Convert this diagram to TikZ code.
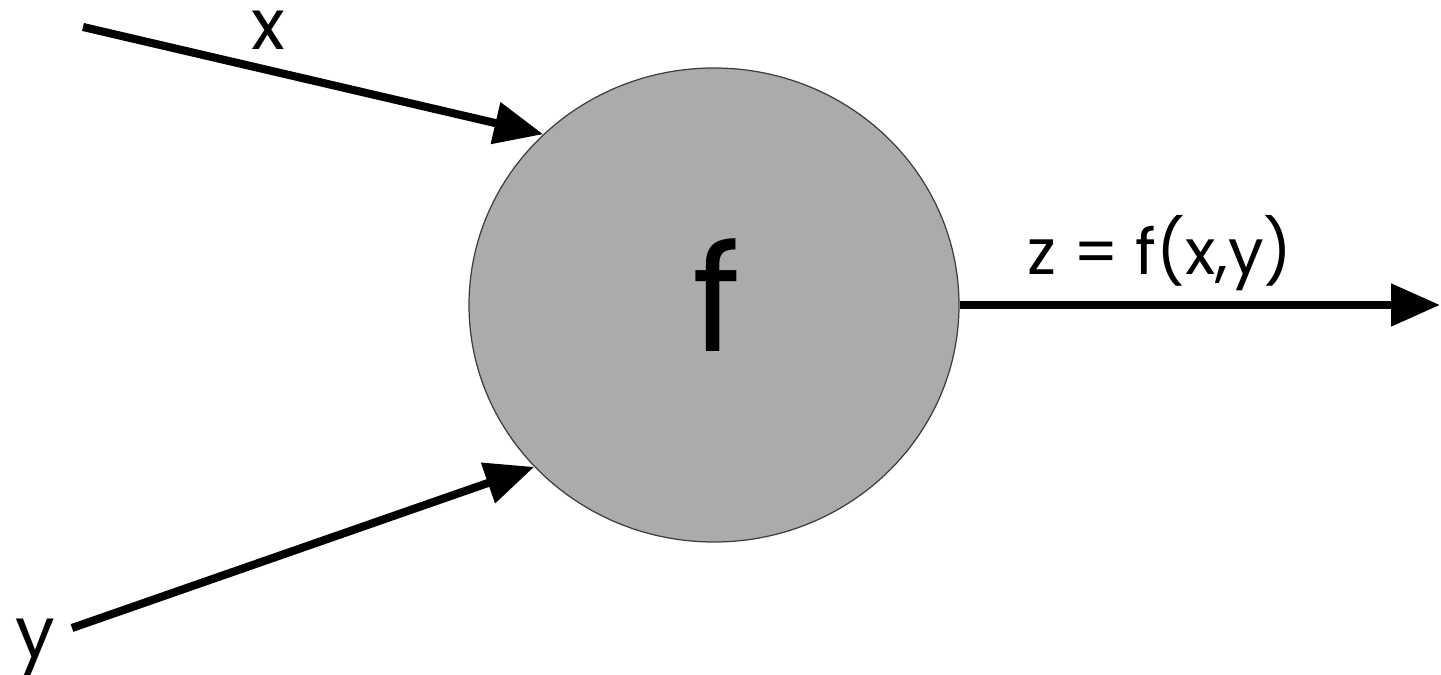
\documentclass[tikz,border=0pt]{standalone}
\usepackage{fontspec}
\setmainfont{Poppins}
\usepackage{tikz}
\usetikzlibrary{arrows.meta, positioning, shapes.geometric}
\definecolor{nodegray}{RGB}{171,171,171}
\definecolor{rimgray}{RGB}{60,60,60}

\begin{document}
\begin{tikzpicture}[
  unit/.style={ellipse,draw=rimgray,fill=nodegray,line width=0.7pt,
    minimum width=9.8cm,minimum height=9.48cm,inner sep=0pt},
  wire/.style={line width=4.6pt,-{Triangle[length=0.98cm,width=0.82cm]}},
  lbl/.style={font=\fontsize{40}{44}\selectfont,anchor=base,inner sep=0pt}]
  \useasboundingbox (0,0) rectangle (28.82,13.48);
  \node[unit](f) at (14.28,7.38){};
  \node[font=\fontsize{84}{90}\selectfont,anchor=base,inner sep=0pt](fname) at (14.33,6.44){f};
  % inputs and output
  \coordinate (xin) at (1.66,12.94);
  \coordinate (yin) at (1.44,0.92);
  \coordinate (zout) at (28.80,7.38);
  \draw[wire] (xin) -- (f.135);
  \draw[wire] (yin) -- (f.222);
  \draw[wire] (f.east) -- (zout);
  \node[lbl](xl) at (5.36,12.48){x};
  \node[lbl](yl) at (0.70,0.34){y};
  \node[lbl,font=\fontsize{36}{40}\selectfont](zl) at (23.20,7.98){z = f(x,y)};
\end{tikzpicture}
\end{document}
